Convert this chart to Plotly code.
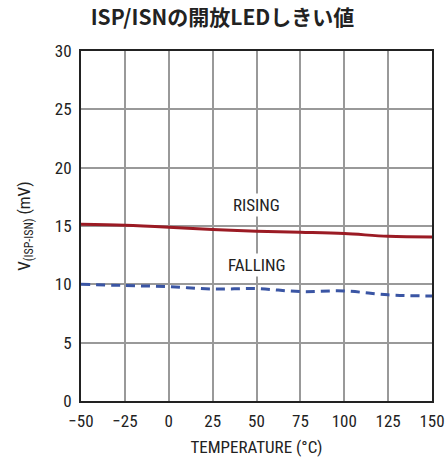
import plotly.graph_objects as go

temps = [-50, -25, 0, 25, 50, 75, 100, 125, 150]
rising = [15.14, 15.06, 14.9, 14.7, 14.55, 14.46, 14.35, 14.12, 14.06]
falling = [10.0, 9.9, 9.8, 9.6, 9.63, 9.38, 9.43, 9.1, 9.0]
x_ticks = [-50, -25, 0, 25, 50, 75, 100, 125, 150]
x_tick_labels = ["\u221250", "\u221225", "0", "25", "50", "75", "100", "125", "150"]
y_ticks = [0, 5, 10, 15, 20, 25, 30]

FONT = "Liberation Sans Narrow, Arial Narrow, Roboto Condensed, Liberation Sans, sans-serif"

fig = go.Figure()
fig.add_trace(go.Scatter(x=temps, y=rising, mode="lines", line=dict(color="#9b1b24", width=3, shape="spline"), showlegend=False))
fig.add_trace(go.Scatter(x=temps, y=falling, mode="lines", line=dict(color="#3a55a4", width=3, dash="9px,6px", shape="spline"), showlegend=False))

fig.add_annotation(x=50, y=16.8, text="RISING", showarrow=False, bgcolor="white",
                   font=dict(family=FONT, size=17, color="#222"))
fig.add_annotation(x=50, y=11.7, text="FALLING", showarrow=False, bgcolor="white",
                   font=dict(family=FONT, size=17, color="#222"))

fig.update_layout(
    width=445, height=462,
    margin=dict(l=81, r=13, t=51, b=61, autoexpand=False),
    paper_bgcolor="white", plot_bgcolor="white",
    title=dict(text="<b>ISP/ISNの開放LEDしきい値</b>", x=0.5, xanchor="center", y=0.962, yanchor="middle",
               font=dict(family="Liberation Sans Narrow, Noto Sans CJK JP", size=21, color="#222")),
    font=dict(family=FONT, size=17, color="#222"),
    xaxis=dict(range=[-50, 150], tickvals=x_ticks, ticktext=x_tick_labels, showgrid=True,
               gridcolor="#999", gridwidth=1.5, zeroline=False, showline=True, linecolor="#222",
               linewidth=2, mirror=True, ticks="", ticklen=0, ticklabelstandoff=4, automargin=False,
               title=dict(text="TEMPERATURE (°C)", font=dict(family=FONT, size=17), standoff=11)),
    yaxis=dict(range=[0, 30], tickvals=y_ticks, showgrid=True, gridcolor="#999", gridwidth=1.5,
               zeroline=False, showline=True, linecolor="#222", linewidth=2, mirror=True, ticks="",
               ticklabelstandoff=4, automargin=False,
               title=dict(text="V<sub>(ISP-ISN)</sub> (mV)", font=dict(family=FONT, size=17), standoff=20)),
)

fig.write_html("out.html")
